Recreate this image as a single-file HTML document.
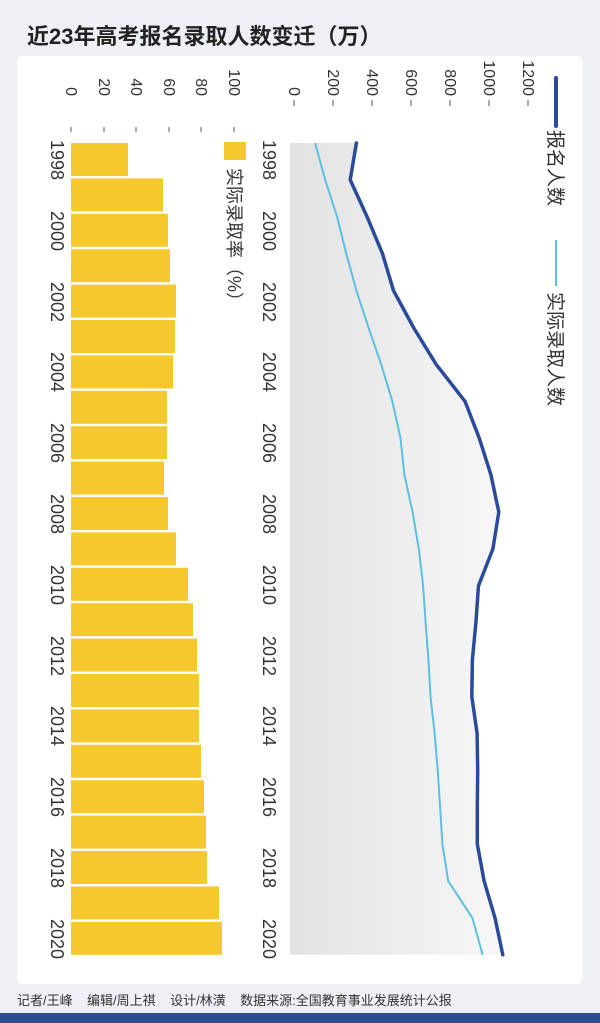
<!DOCTYPE html>
<html><head><meta charset="utf-8"><style>
html,body{margin:0;padding:0;background:#eef0f5;}
svg{display:block;}
text{font-family:"Liberation Sans","Noto Sans CJK SC",sans-serif;}
</style></head><body>
<svg width="600" height="1023" viewBox="0 0 600 1023" xmlns="http://www.w3.org/2000/svg">
<defs>
<linearGradient id="g" x1="0" x2="1" y1="0" y2="0">
<stop offset="0" stop-color="#e2e2e2"/><stop offset="1" stop-color="#f7f7f7"/>
</linearGradient>
</defs>
<rect width="600" height="1023" fill="#eef0f5"/>
<text x="27" y="44" font-size="22" font-weight="bold" fill="#222">近23年高考报名录取人数变迁（万）</text>
<rect x="17" y="56" width="566" height="928" rx="6" fill="#fff"/>

<polygon fill="url(#g)" points="290,143 356.4,143 350.2,179.9 367.1,216.8 382.5,253.7 393.5,290.6 413.5,327.5 436.2,364.4 465.0,401.3 479.3,438.2 491.0,475.1 498.8,512 492.9,548.9 478.5,585.8 475.9,622.7 472.4,659.6 471.8,696.5 477.1,733.4 477.7,770.3 477.3,807.2 477.3,844.1 484.1,881 495.0,917.9 502.8,954.8 290,954.8"/>
<polyline fill="none" stroke="#5bc0e0" stroke-width="2" points="315.1,143 325.2,179.9 337.1,216.8 346.3,253.7 356.4,290.6 368.5,327.5 381.2,364.4 392.3,401.3 400.5,438.2 404.4,475.1 412.6,512 418.8,548.9 423.1,585.8 425.6,622.7 428.4,659.6 430.5,696.5 434.6,733.4 437.7,770.3 440.1,807.2 442.4,844.1 448.2,881 472.4,917.9 482.6,954.8"/>
<polyline fill="none" stroke="#2a4b9b" stroke-width="3.5" stroke-linejoin="round" stroke-linecap="round" points="356.4,143 350.2,179.9 367.1,216.8 382.5,253.7 393.5,290.6 413.5,327.5 436.2,364.4 465.0,401.3 479.3,438.2 491.0,475.1 498.8,512 492.9,548.9 478.5,585.8 475.9,622.7 472.4,659.6 471.8,696.5 477.1,733.4 477.7,770.3 477.3,807.2 477.3,844.1 484.1,881 495.0,917.9 502.8,954.8"/>

<g font-size="16" fill="#333" text-anchor="end">
<text transform="translate(289,96) rotate(90)">0</text>
<text transform="translate(328,96) rotate(90)">200</text>
<text transform="translate(367,96) rotate(90)">400</text>
<text transform="translate(406,96) rotate(90)">600</text>
<text transform="translate(445,96) rotate(90)">800</text>
<text transform="translate(484,96) rotate(90)">1000</text>
<text transform="translate(523,96) rotate(90)">1200</text>
</g>
<g stroke="#555" stroke-width="1">
<line x1="294" y1="100" x2="294" y2="106"/><line x1="333" y1="100" x2="333" y2="106"/><line x1="372" y1="100" x2="372" y2="106"/><line x1="411" y1="100" x2="411" y2="106"/><line x1="450" y1="100" x2="450" y2="106"/><line x1="489" y1="100" x2="489" y2="106"/><line x1="528" y1="100" x2="528" y2="106"/>
</g>
<g font-size="18" fill="#333" text-anchor="middle">
<text transform="translate(263,160) rotate(90)">1998</text>
<text transform="translate(263,231) rotate(90)">2000</text>
<text transform="translate(263,302) rotate(90)">2002</text>
<text transform="translate(263,372) rotate(90)">2004</text>
<text transform="translate(263,443) rotate(90)">2006</text>
<text transform="translate(263,514) rotate(90)">2008</text>
<text transform="translate(263,585) rotate(90)">2010</text>
<text transform="translate(263,656) rotate(90)">2012</text>
<text transform="translate(263,726) rotate(90)">2014</text>
<text transform="translate(263,797) rotate(90)">2016</text>
<text transform="translate(263,868) rotate(90)">2018</text>
<text transform="translate(263,939) rotate(90)">2020</text>
</g>
<line x1="556" y1="78" x2="556" y2="126" stroke="#2a4b9b" stroke-width="4" stroke-linecap="round"/>
<text transform="translate(549,130) rotate(90)" font-size="19" fill="#333">报名人数</text>
<line x1="556" y1="240" x2="556" y2="286" stroke="#5bc0e0" stroke-width="2"/>
<text transform="translate(549,292) rotate(90)" font-size="19" fill="#333">实际录取人数</text>
<rect x="224" y="142" width="22" height="18" fill="#f5c92e"/>
<text transform="translate(228,168) rotate(90)" font-size="18" fill="#333">实际录取率（%）</text>

<g font-size="16" fill="#333" text-anchor="end">
<text transform="translate(66,96) rotate(90)">0</text>
<text transform="translate(99,96) rotate(90)">20</text>
<text transform="translate(131,96) rotate(90)">40</text>
<text transform="translate(164,96) rotate(90)">60</text>
<text transform="translate(196,96) rotate(90)">80</text>
<text transform="translate(229,96) rotate(90)">100</text>
</g>
<g stroke="#555" stroke-width="1">
<line x1="71" y1="127" x2="71" y2="132"/><line x1="104" y1="127" x2="104" y2="132"/><line x1="136" y1="127" x2="136" y2="132"/><line x1="169" y1="127" x2="169" y2="132"/><line x1="201" y1="127" x2="201" y2="132"/><line x1="234" y1="127" x2="234" y2="132"/>
</g>
<g fill="#f5c92e">
<rect x="71" y="143" width="57" height="33"/>
<rect x="71" y="178.4" width="92" height="33"/>
<rect x="71" y="213.8" width="97" height="33"/>
<rect x="71" y="249.2" width="99" height="33"/>
<rect x="71" y="284.6" width="105" height="33"/>
<rect x="71" y="320" width="104" height="33"/>
<rect x="71" y="355.4" width="102" height="33"/>
<rect x="71" y="390.8" width="96" height="33"/>
<rect x="71" y="426.2" width="96" height="33"/>
<rect x="71" y="461.6" width="93" height="33"/>
<rect x="71" y="497" width="97" height="33"/>
<rect x="71" y="532.4" width="105" height="33"/>
<rect x="71" y="567.8" width="117" height="33"/>
<rect x="71" y="603.2" width="122" height="33"/>
<rect x="71" y="638.6" width="126" height="33"/>
<rect x="71" y="674" width="128" height="33"/>
<rect x="71" y="709.4" width="128" height="33"/>
<rect x="71" y="744.8" width="130" height="33"/>
<rect x="71" y="780.2" width="133" height="33"/>
<rect x="71" y="815.6" width="135" height="33"/>
<rect x="71" y="851" width="136" height="33"/>
<rect x="71" y="886.4" width="148" height="33"/>
<rect x="71" y="921.8" width="151" height="33"/>
</g>
<g font-size="18" fill="#333" text-anchor="middle">
<text transform="translate(51,160) rotate(90)">1998</text>
<text transform="translate(51,231) rotate(90)">2000</text>
<text transform="translate(51,302) rotate(90)">2002</text>
<text transform="translate(51,372) rotate(90)">2004</text>
<text transform="translate(51,443) rotate(90)">2006</text>
<text transform="translate(51,514) rotate(90)">2008</text>
<text transform="translate(51,585) rotate(90)">2010</text>
<text transform="translate(51,656) rotate(90)">2012</text>
<text transform="translate(51,726) rotate(90)">2014</text>
<text transform="translate(51,797) rotate(90)">2016</text>
<text transform="translate(51,868) rotate(90)">2018</text>
<text transform="translate(51,939) rotate(90)">2020</text>
</g>

<text x="17" y="1005" font-size="13" fill="#333" xml:space="preserve">记者/王峰    编辑/周上祺    设计/林潢    数据来源:全国教育事业发展统计公报</text>
<rect x="0" y="1013" width="600" height="10" fill="#2c4f93"/>
</svg>
</body></html>
